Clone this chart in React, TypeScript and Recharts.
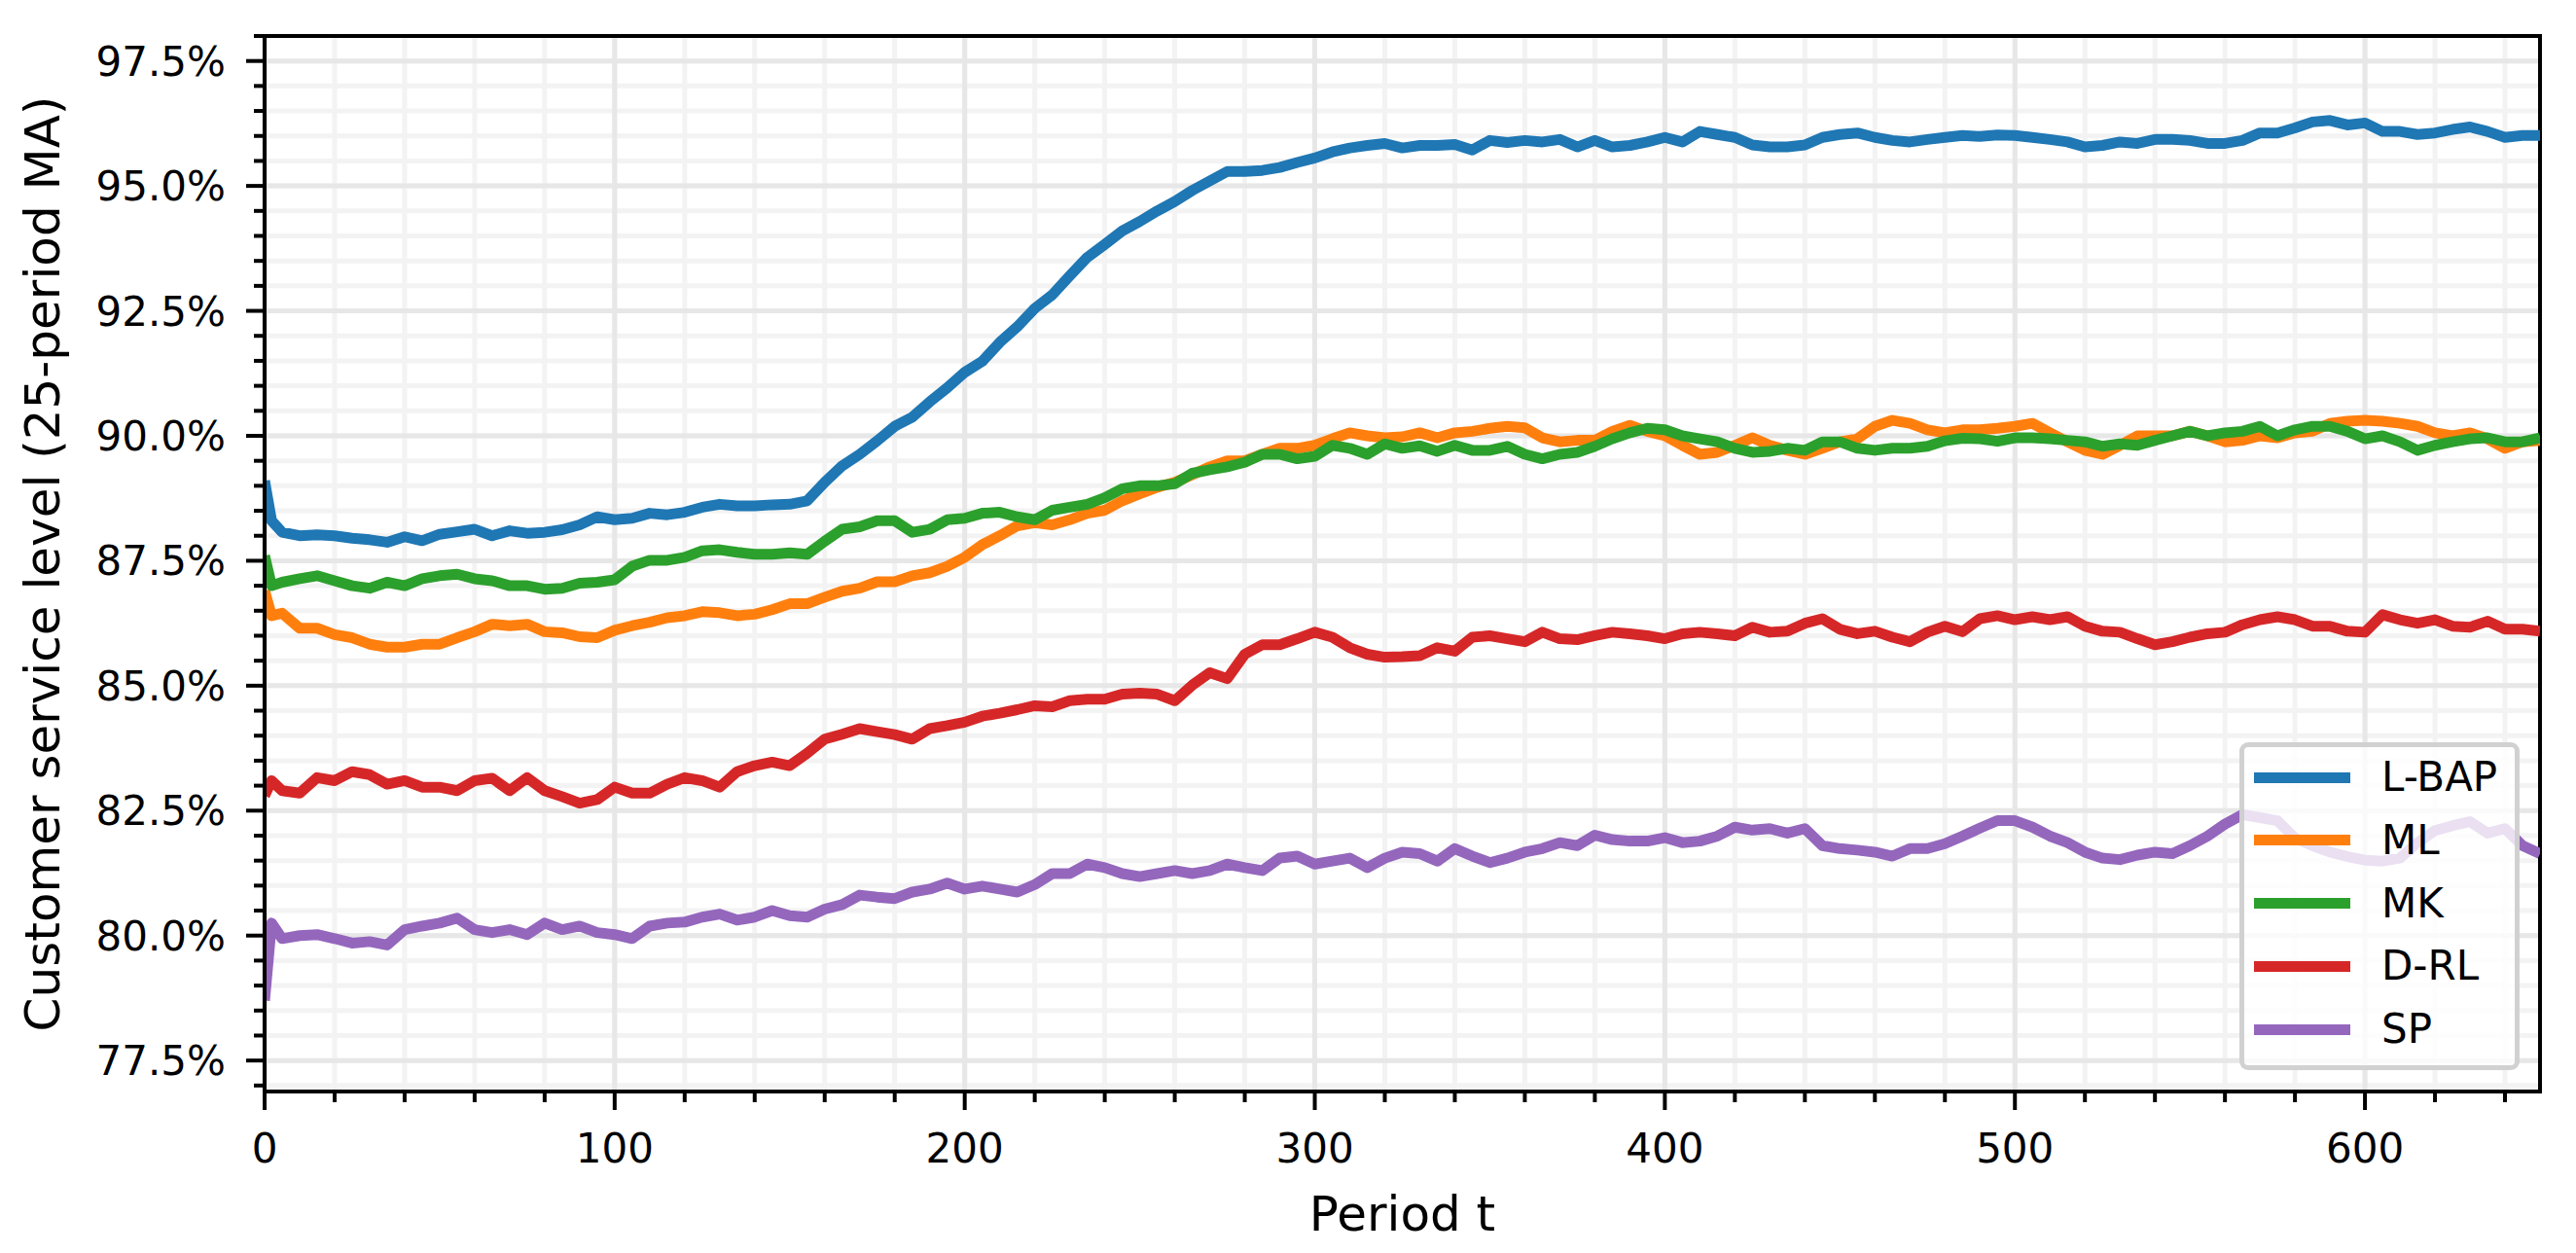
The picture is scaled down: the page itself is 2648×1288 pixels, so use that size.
import { CartesianGrid, Label, Line, LineChart, ReferenceArea, XAxis, YAxis } from 'recharts'

document.body.style.margin = '0'

// periods sampled from the 25-period moving average
const periods = [
  0, 2, 5, 10, 15, 20, 25, 30, 35, 40, 45, 50, 55, 60, 65, 70, 75, 80, 85, 90, 95, 100,
  105, 110, 115, 120, 125, 130, 135, 140, 145, 150, 155, 160, 165, 170, 175, 180, 185, 190, 195, 200,
  205, 210, 215, 220, 225, 230, 235, 240, 245, 250, 255, 260, 265, 270, 275, 280, 285, 290, 295, 300,
  305, 310, 315, 320, 325, 330, 335, 340, 345, 350, 355, 360, 365, 370, 375, 380, 385, 390, 395, 400,
  405, 410, 415, 420, 425, 430, 435, 440, 445, 450, 455, 460, 465, 470, 475, 480, 485, 490, 495, 500,
  505, 510, 515, 520, 525, 530, 535, 540, 545, 550, 555, 560, 565, 570, 575, 580, 585, 590, 595, 600,
  605, 610, 615, 620, 625, 630, 635, 640, 645, 650,
]

const lbap = [
  89.1, 88.3, 88.07, 88.0, 88.02, 88.0, 87.95, 87.92, 87.87, 87.98, 87.9, 88.03, 88.08, 88.13, 88.0, 88.1, 88.05, 88.07, 88.12, 88.22, 88.38, 88.32,
  88.35, 88.45, 88.42, 88.47, 88.57, 88.63, 88.6, 88.6, 88.62, 88.63, 88.7, 89.07, 89.4, 89.63, 89.9, 90.19, 90.37, 90.68, 90.96, 91.27,
  91.49, 91.87, 92.18, 92.55, 92.82, 93.2, 93.57, 93.83, 94.1, 94.29, 94.5, 94.69, 94.91, 95.1, 95.29, 95.29, 95.31, 95.37, 95.47, 95.56,
  95.68, 95.76, 95.81, 95.85, 95.76, 95.81, 95.81, 95.83, 95.72, 95.91, 95.87, 95.91, 95.88, 95.93, 95.78, 95.91, 95.78, 95.81, 95.88, 95.97,
  95.88, 96.09, 96.03, 95.97, 95.82, 95.78, 95.78, 95.82, 95.97, 96.03, 96.06, 95.97, 95.91, 95.88, 95.93, 95.97, 96.01, 95.99, 96.02, 96.01,
  95.97, 95.93, 95.88, 95.78, 95.81, 95.88, 95.85, 95.93, 95.93, 95.91, 95.85, 95.85, 95.91, 96.06, 96.06, 96.16, 96.28, 96.31, 96.22, 96.26,
  96.09, 96.09, 96.03, 96.06, 96.13, 96.18, 96.09, 95.97, 96.01, 96.01,
]

const ml = [
  86.9, 86.4, 86.45, 86.15, 86.15, 86.02, 85.96, 85.83, 85.77, 85.77, 85.83, 85.83, 85.96, 86.08, 86.23, 86.2, 86.23, 86.08, 86.06, 85.98, 85.96, 86.11,
  86.2, 86.27, 86.36, 86.4, 86.48, 86.46, 86.4, 86.43, 86.52, 86.64, 86.64, 86.77, 86.89, 86.95, 87.08, 87.08, 87.2, 87.26, 87.39, 87.57,
  87.82, 88.0, 88.2, 88.26, 88.22, 88.32, 88.45, 88.51, 88.7, 88.84, 88.97, 89.07, 89.22, 89.38, 89.5, 89.5, 89.63, 89.75, 89.75, 89.81,
  89.94, 90.06, 90.0, 89.96, 89.98, 90.06, 89.96, 90.06, 90.09, 90.15, 90.19, 90.16, 89.96, 89.88, 89.91, 89.91, 90.09, 90.21, 90.09, 90.0,
  89.81, 89.63, 89.67, 89.81, 89.96, 89.81, 89.71, 89.63, 89.75, 89.88, 89.94, 90.19, 90.31, 90.25, 90.12, 90.06, 90.12, 90.12, 90.15, 90.19,
  90.25, 90.06, 89.88, 89.71, 89.63, 89.81, 90.0, 90.0, 90.0, 90.09, 90.0, 89.88, 89.91, 90.0, 89.96, 90.06, 90.09, 90.25, 90.29, 90.31,
  90.29, 90.25, 90.19, 90.06, 90.0, 90.06, 89.94, 89.75, 89.88, 89.91,
]

const mk = [
  87.6, 87.0, 87.07, 87.14, 87.2, 87.1, 87.0, 86.95, 87.07, 87.0, 87.14, 87.2, 87.23, 87.14, 87.1, 87.0, 87.0, 86.93, 86.95, 87.05, 87.07, 87.12,
  87.39, 87.51, 87.51, 87.57, 87.7, 87.72, 87.67, 87.63, 87.63, 87.66, 87.63, 87.89, 88.13, 88.18, 88.3, 88.3, 88.07, 88.13, 88.32, 88.35,
  88.45, 88.47, 88.38, 88.32, 88.51, 88.57, 88.63, 88.76, 88.94, 89.0, 89.0, 89.04, 89.25, 89.32, 89.38, 89.47, 89.63, 89.63, 89.54, 89.59,
  89.81, 89.75, 89.63, 89.84, 89.75, 89.8, 89.69, 89.81, 89.71, 89.71, 89.79, 89.63, 89.54, 89.63, 89.67, 89.79, 89.94, 90.06, 90.15, 90.12,
  90.0, 89.94, 89.88, 89.75, 89.67, 89.69, 89.75, 89.71, 89.88, 89.88, 89.75, 89.71, 89.75, 89.75, 89.79, 89.9, 89.95, 89.94, 89.89, 89.96,
  89.96, 89.94, 89.91, 89.88, 89.79, 89.84, 89.81, 89.91, 90.0, 90.09, 90.0, 90.06, 90.09, 90.19, 90.0, 90.12, 90.19, 90.19, 90.09, 89.94,
  90.0, 89.88, 89.71, 89.81, 89.88, 89.94, 89.96, 89.88, 89.88, 89.96,
]

const drl = [
  82.8, 83.1, 82.9, 82.85, 83.16, 83.1, 83.28, 83.22, 83.03, 83.1, 82.97, 82.97, 82.9, 83.1, 83.15, 82.9, 83.16, 82.9, 82.78, 82.65, 82.72, 82.97,
  82.85, 82.85, 83.03, 83.16, 83.1, 82.97, 83.28, 83.4, 83.47, 83.4, 83.65, 83.93, 84.03, 84.14, 84.08, 84.02, 83.93, 84.14, 84.2, 84.27,
  84.39, 84.45, 84.52, 84.6, 84.58, 84.7, 84.73, 84.73, 84.83, 84.85, 84.83, 84.7, 85.01, 85.26, 85.14, 85.63, 85.82, 85.82, 85.94, 86.07,
  85.97, 85.76, 85.63, 85.57, 85.58, 85.6, 85.76, 85.69, 85.97, 86.0, 85.94, 85.88, 86.07, 85.94, 85.92, 86.0, 86.07, 86.04, 86.0, 85.94,
  86.04, 86.07, 86.04, 86.0, 86.17, 86.07, 86.09, 86.25, 86.34, 86.13, 86.04, 86.09, 85.97, 85.88, 86.07, 86.19, 86.08, 86.34, 86.4, 86.32,
  86.38, 86.32, 86.38, 86.19, 86.09, 86.07, 85.94, 85.82, 85.88, 85.97, 86.04, 86.07, 86.22, 86.32, 86.38, 86.32, 86.19, 86.19, 86.09, 86.07,
  86.42, 86.32, 86.25, 86.32, 86.19, 86.17, 86.29, 86.13, 86.13, 86.09,
]

const sp = [
  78.7, 80.25, 79.94, 80.0, 80.02, 79.94, 79.85, 79.88, 79.81, 80.12, 80.19, 80.25, 80.35, 80.12, 80.06, 80.12, 80.02, 80.25, 80.12, 80.19, 80.06, 80.02,
  79.94, 80.19, 80.25, 80.27, 80.37, 80.43, 80.31, 80.37, 80.5, 80.4, 80.37, 80.53, 80.62, 80.81, 80.77, 80.74, 80.87, 80.93, 81.05, 80.93,
  80.99, 80.93, 80.87, 81.02, 81.24, 81.24, 81.43, 81.36, 81.24, 81.18, 81.24, 81.3, 81.24, 81.3, 81.43, 81.36, 81.3, 81.55, 81.59, 81.43,
  81.49, 81.55, 81.36, 81.55, 81.67, 81.64, 81.49, 81.74, 81.59, 81.46, 81.55, 81.67, 81.74, 81.86, 81.8, 82.01, 81.92, 81.89, 81.89, 81.96,
  81.86, 81.89, 81.99, 82.17, 82.11, 82.14, 82.05, 82.14, 81.8, 81.74, 81.71, 81.67, 81.59, 81.74, 81.74, 81.84, 81.99, 82.15, 82.3, 82.3,
  82.17, 81.99, 81.86, 81.67, 81.55, 81.52, 81.61, 81.67, 81.64, 81.8, 81.99, 82.23, 82.42, 82.36, 82.3, 81.95, 81.8, 81.67, 81.58, 81.51,
  81.49, 81.55, 81.86, 82.1, 82.2, 82.28, 82.05, 82.14, 81.8, 81.64,
]

const xMajorTicks = [0, 100, 200, 300, 400, 500, 600]
const xMinorTicks = [
  0, 20, 40, 60, 80, 100, 120, 140, 160, 180, 200, 220, 240, 260, 280, 300, 320,
  340, 360, 380, 400, 420, 440, 460, 480, 500, 520, 540, 560, 580, 600, 620, 640,
]
const yMajorTicks = [77.5, 80, 82.5, 85, 87.5, 90, 92.5, 95, 97.5]
const yMinorTicks = [
  77, 77.5, 78, 78.5, 79, 79.5, 80, 80.5, 81, 81.5, 82, 82.5, 83, 83.5, 84, 84.5, 85, 85.5, 86, 86.5, 87, 87.5,
  88, 88.5, 89, 89.5, 90, 90.5, 91, 91.5, 92, 92.5, 93, 93.5, 94, 94.5, 95, 95.5, 96, 96.5, 97, 97.5, 98,
]

const xDomain: [number, number] = [0, 650]
const yDomain: [number, number] = [76.88, 98]

const series = [
  { key: 'lbap', name: 'L-BAP', color: '#1f77b4', values: lbap },
  { key: 'ml', name: 'ML', color: '#ff7f0e', values: ml },
  { key: 'mk', name: 'MK', color: '#2ca02c', values: mk },
  { key: 'drl', name: 'D-RL', color: '#d62728', values: drl },
  { key: 'sp', name: 'SP', color: '#9467bd', values: sp },
]

const data = periods.map((t, i) => {
  const row: Record<string, number> = { t }
  for (const s of series) row[s.key] = s.values[i]
  return row
})

const FONT = 'DejaVu Sans'

function XTick({ x, y, payload }: any) {
  const major = payload.value % 100 === 0
  return (
    <g>
      <line x1={x} x2={x} y1={y} y2={y + (major ? 19 : 11)} stroke="#000" strokeWidth={4} />
      {major && (
        <text x={x} y={y + 73} textAnchor="middle" fontSize={42} fontFamily={FONT} fill="#000">
          {payload.value}
        </text>
      )}
    </g>
  )
}

function YTick({ x, y, payload }: any) {
  const major = Math.round(payload.value * 2) % 5 === 0
  return (
    <g>
      <line x1={x - (major ? 19 : 11)} x2={x} y1={y} y2={y} stroke="#000" strokeWidth={4} />
      {major && (
        <text x={x - 40} y={y + 15} textAnchor="end" fontSize={42} fontFamily={FONT} fill="#000">
          {payload.value.toFixed(1)}%
        </text>
      )}
    </g>
  )
}

function YTitle({ viewBox }: any) {
  const vb = viewBox || { x: 0, y: 37, width: 272, height: 1085 }
  const cx = vb.x + 61
  const cy = vb.y + vb.height / 2
  return (
    <text x={cx} y={cy} transform={`rotate(-90, ${cx}, ${cy})`} textAnchor="middle" fontSize={50} fontFamily={FONT} fill="#000">
      Customer service level (25-period MA)
    </text>
  )
}

function XTitle({ viewBox }: any) {
  const vb = viewBox || { x: 272, y: 1122, width: 2339, height: 166 }
  return (
    <text x={vb.x + vb.width / 2} y={vb.y + 143} textAnchor="middle" fontSize={50} fontFamily={FONT} fill="#000">
      Period t
    </text>
  )
}

function LegendBox() {
  return (
    <div
      style={{
        position: 'absolute',
        left: 2302,
        top: 763,
        width: 288,
        height: 337,
        boxSizing: 'border-box',
        background: 'rgba(255,255,255,0.8)',
        border: '5px solid rgba(204,204,204,0.9)',
        borderRadius: 9,
        fontFamily: FONT,
        fontSize: 42,
        color: '#000',
      }}
    >
      {series.map((s, i) => (
        <div
          key={s.key}
          style={{ position: 'absolute', left: 0, top: 31 + i * 64.75, height: 0, width: '100%' }}
        >
          <div style={{ position: 'absolute', left: 10, top: -5.5, width: 99, height: 11, background: s.color }} />
          <div style={{ position: 'absolute', left: 141, top: -25, lineHeight: '50px', whiteSpace: 'nowrap' }}>{s.name}</div>
        </div>
      ))}
    </div>
  )
}

export default function App() {
  return (
    <div style={{ position: 'relative', width: 2648, height: 1288, background: '#fff' }}>
      <LineChart width={2648} height={1288} data={data} margin={{ top: 37, right: 37, bottom: 0, left: 0 }}>
        <XAxis
          xAxisId="x"
          dataKey="t"
          type="number"
          domain={xDomain}
          allowDataOverflow
          ticks={xMinorTicks}
          interval={0}
          tick={<XTick />}
          tickLine={false}
          tickSize={0}
          tickMargin={0}
          height={166}
          axisLine={{ stroke: '#000', strokeWidth: 4 }}
        >
          <Label content={<XTitle />} />
        </XAxis>
        <YAxis
          yAxisId="y"
          type="number"
          domain={yDomain}
          allowDataOverflow
          ticks={yMinorTicks}
          interval={0}
          tick={<YTick />}
          tickLine={false}
          tickSize={0}
          tickMargin={0}
          width={272}
          axisLine={{ stroke: '#000', strokeWidth: 4 }}
        >
          <Label content={<YTitle />} />
        </YAxis>
        <CartesianGrid
          xAxisId="x"
          yAxisId="y"
          verticalValues={xMinorTicks}
          horizontalValues={yMinorTicks}
          stroke="#f3f3f3"
          strokeWidth={5}
        />
        <CartesianGrid
          xAxisId="x"
          yAxisId="y"
          verticalValues={xMajorTicks}
          horizontalValues={yMajorTicks}
          stroke="#e7e7e7"
          strokeWidth={5}
        />
        {series.map((s) => (
          <Line
            key={s.key}
            xAxisId="x"
            yAxisId="y"
            type="linear"
            dataKey={s.key}
            name={s.name}
            stroke={s.color}
            strokeWidth={11}
            strokeLinejoin="round"
            dot={false}
            activeDot={false}
            isAnimationActive={false}
          />
        ))}
        <ReferenceArea
          xAxisId="x"
          yAxisId="y"
          x1={xDomain[0]}
          x2={xDomain[1]}
          y1={yDomain[0]}
          y2={yDomain[1]}
          fill="none"
          stroke="#000"
          strokeWidth={4}
          ifOverflow="visible"
        />
      </LineChart>
      <LegendBox />
    </div>
  )
}
